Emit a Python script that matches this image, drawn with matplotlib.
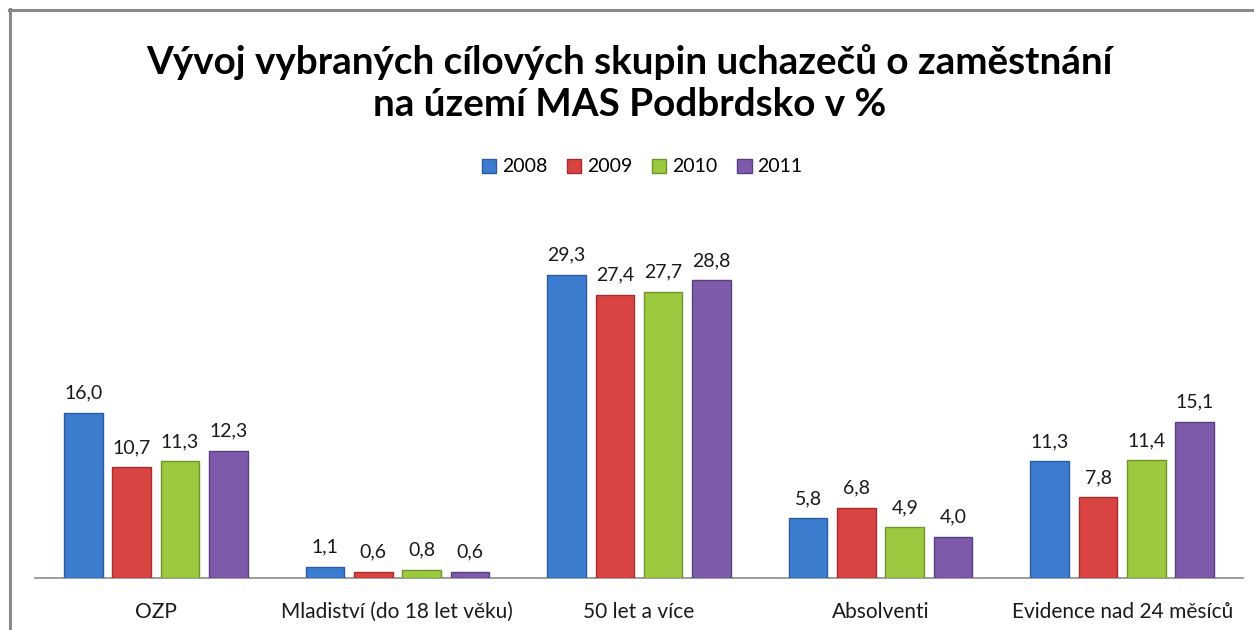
import matplotlib
matplotlib.use("Agg")
import matplotlib.pyplot as plt
import numpy as np
from matplotlib.lines import Line2D

categories = ["OZP", "Mladiství (do 18 let věku)", "50 let a více", "Absolventi", "Evidence nad 24 měsíců"]
years = ["2008", "2009", "2010", "2011"]
v2008 = [16.0, 1.1, 29.3, 5.8, 11.3]
v2009 = [10.7, 0.6, 27.4, 6.8, 7.8]
v2010 = [11.3, 0.8, 27.7, 4.9, 11.4]
v2011 = [12.3, 0.6, 28.8, 4.0, 15.1]
series = [v2008, v2009, v2010, v2011]
colors = ["#3D7DCF", "#D94442", "#9CC93F", "#7E5AAB"]
edges = ["#2B5C9C", "#A52E2C", "#6F942A", "#5A3F80"]

plt.rcParams['font.family'] = ['Lato', 'DejaVu Sans']

W, H = 1254, 630
fig = plt.figure(figsize=(W / 100, H / 100), dpi=100)
fig.patch.set_facecolor("white")

ax_left, ax_right = 35 / W, 1243 / W
ax_bottom, ax_top = (H - 578) / H, (H - 216) / H
ax = fig.add_axes([ax_left, ax_bottom, ax_right - ax_left, ax_top - ax_bottom])

x = np.arange(len(categories))
step = 0.2
width = 0.16
for i, (vals, c, e) in enumerate(zip(series, colors, edges)):
    pos = x + (i - 1.5) * step
    bars = ax.bar(pos, vals, width=width, color=c, edgecolor=e, linewidth=1.0, label=years[i], zorder=3)
    for b, v in zip(bars, vals):
        ax.annotate(f"{v:.1f}".replace(".", ","), (b.get_x() + b.get_width() / 2, v),
                    xytext=(0, 8), textcoords="offset points", ha="center", va="bottom",
                    fontsize=14, color="#1a1a1a")

ax.set_xlim(-0.5, len(categories) - 0.5)
ax.set_ylim(0, 35)
ax.set_xticks(x)
ax.set_xticklabels(categories, fontsize=15, color="#1a1a1a")
ax.tick_params(axis="x", length=0, pad=17)
ax.set_yticks([])
for s in ["top", "right", "left"]:
    ax.spines[s].set_visible(False)
ax.spines["bottom"].set_color("#8c8c8c")
ax.spines["bottom"].set_linewidth(1.2)
ax.set_facecolor("none")

fig.text(0.502, (H - 83) / H, "Vývoj vybraných cílových skupin uchazečů o zaměstnání\nna území MAS Podbrdsko v %",
         ha="center", va="center", fontsize=27.8, fontweight="bold", linespacing=1.22, color="black")

handles = [plt.Rectangle((0, 0), 1, 1, facecolor=c, edgecolor=e) for c, e in zip(colors, edges)]
fig.legend(handles, years, loc="center", bbox_to_anchor=(642 / W, (H - 167) / H), ncol=4,
           frameon=False, fontsize=14, handlelength=0.75, handleheight=0.75, handletextpad=0.3,
           columnspacing=1.0)

# chart frame (cut off at right and bottom)
fig.add_artist(Line2D([10 / W, 10 / W], [0, (H - 9) / H], color="#8a8a8a", linewidth=2.2, transform=fig.transFigure))
fig.add_artist(Line2D([9 / W, 1], [(H - 10) / H, (H - 10) / H], color="#8a8a8a", linewidth=2.2, transform=fig.transFigure))

fig.savefig("out.png", dpi=100, facecolor="white")
